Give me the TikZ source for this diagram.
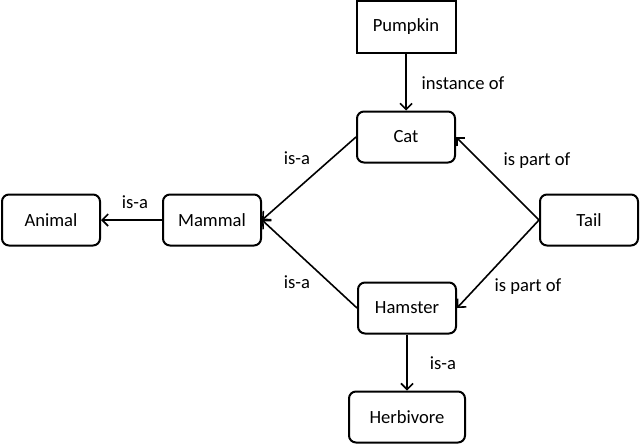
\documentclass[tikz,border=0pt]{standalone}
\usepackage{fontspec}
\setmainfont{Carlito}
\usetikzlibrary{arrows.meta,positioning}

\begin{document}
\begin{tikzpicture}[x=0.5pt, y=-0.5pt,
  font=\fontsize{9.3}{11}\selectfont,
  concept/.style={draw, line width=1pt, rounded corners=3.5pt, minimum width=49pt, minimum height=25.5pt, inner sep=0pt},
  inst/.style={draw, line width=1pt, minimum width=49.5pt, minimum height=26pt, inner sep=0pt},
  rel/.style={line width=0.8pt, -{Straight Barb[length=3pt, width=6pt]}},
  lbl/.style={inner sep=1pt}]
  \useasboundingbox (0,0) rectangle (640,445);
  \node[inst] (pumpkin) at (406,27) {Pumpkin};
  \node[concept] (cat) at (406,137) {Cat};
  \node[concept] (animal) at (51,220) {Animal};
  \node[concept] (mammal) at (212,220) {Mammal};
  \node[concept] (tail) at (589,220) {Tail};
  \node[concept] (hamster) at (407,308) {Hamster};
  \node[concept, minimum width=58pt] (herbivore) at (407,417) {Herbivore};
  \draw[rel] (pumpkin) -- (cat);
  \draw[rel] (mammal) -- (animal);
  \draw[rel] (cat.west) -- (mammal.east);
  \draw[rel] (hamster.west) -- (mammal.east);
  \draw[rel] (tail.west) -- (cat.east);
  \draw[rel] (tail.west) -- (hamster.east);
  \draw[rel] (hamster) -- (herbivore);
  % edge labels
  \node[lbl] (l1) at (463,83) {instance of};
  \node[lbl] (l2) at (135,202) {is-a};
  \node[lbl] (l3) at (297,158) {is-a};
  \node[lbl] (l4) at (297,282) {is-a};
  \node[lbl] (l5) at (537,161) {is part of};
  \node[lbl] (l6) at (528,287) {is part of};
  \node[lbl] (l7) at (443,363) {is-a};
\end{tikzpicture}
\end{document}
